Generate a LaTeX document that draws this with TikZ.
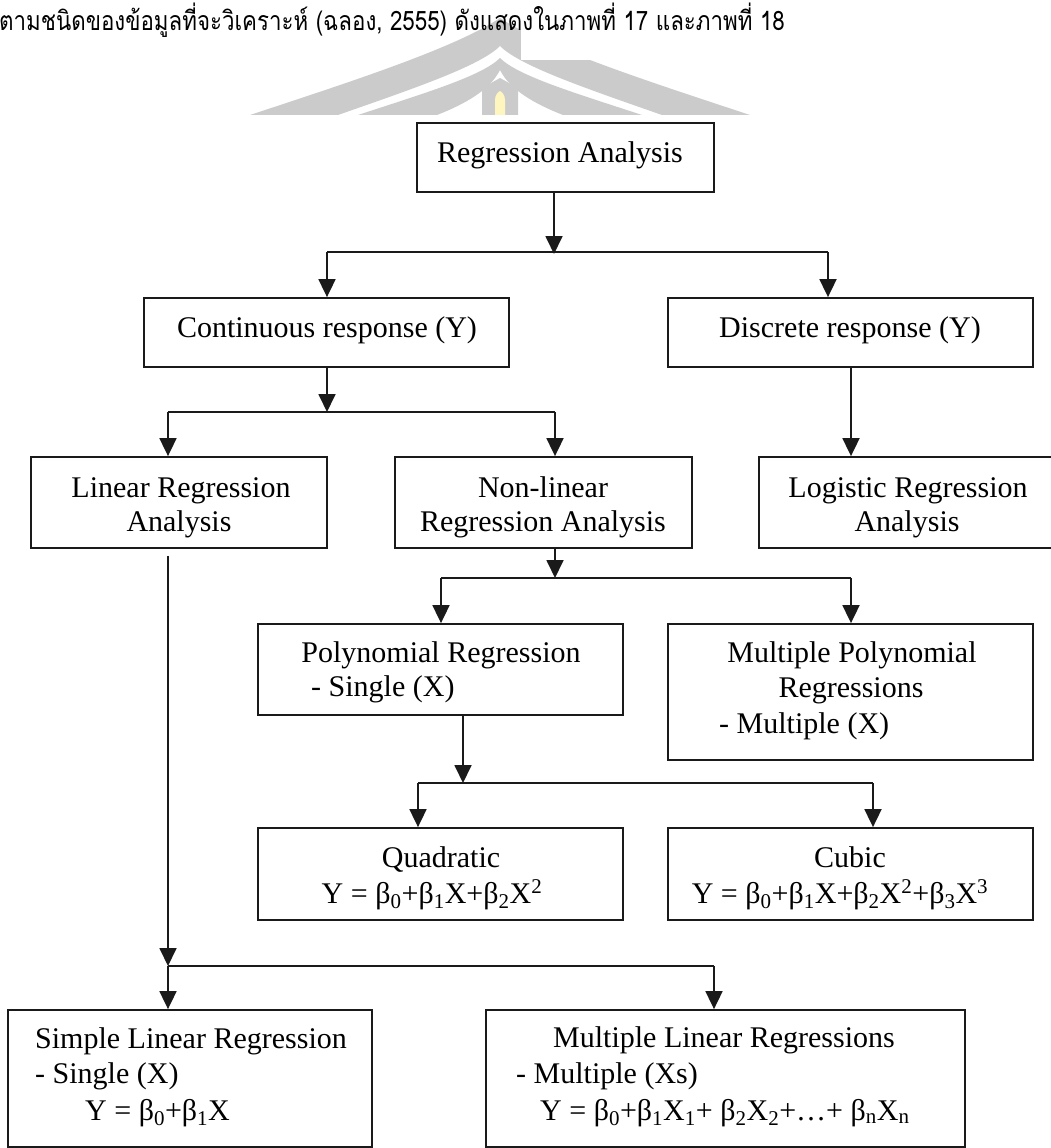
\documentclass[tikz,border=0pt]{standalone}
\usepackage{fontspec}
\setmainfont{Liberation Serif}
\newfontfamily\thaifont[Script=Thai]{Loma}
\usetikzlibrary{arrows.meta}
\definecolor{linec}{HTML}{1A1A1A}
\definecolor{wm}{HTML}{CBCBCB}
\definecolor{flame}{HTML}{FFF6BF}
\newcommand{\bt}[1]{β\textsubscript{#1}}
\begin{document}
\begin{tikzpicture}[x=1pt,y=-1pt,
  box/.style={draw=linec, line width=1.8pt, rectangle, inner sep=0pt},
  txt/.style={font=\fontsize{30}{35}\selectfont, inner sep=0pt, anchor=base},
  txtl/.style={font=\fontsize{30}{35}\selectfont, inner sep=0pt, anchor=base west},
  ln/.style={draw=linec, line width=1.8pt},
  arr/.style={draw=linec, line width=1.8pt, -{Triangle[width=17pt,length=18pt]}}]
\useasboundingbox (0,0) rectangle (1051,1148);
\fill[white] (0,0) rectangle (1051,1148);
% watermark
\fill[wm] (250,115) .. controls (350,82) and (455,48) .. (500,18)
  .. controls (545,48) and (650,82) .. (750,115) -- (662,115)
  .. controls (585,88) and (520,66) .. (500,46)
  .. controls (480,66) and (415,88) .. (338,115) -- cycle;
\fill[wm] (358,115) .. controls (425,93) and (482,76) .. (500,58)
  .. controls (518,76) and (575,93) .. (642,115) -- (563,115)
  .. controls (535,104) and (510,90) .. (500,70)
  .. controls (490,90) and (465,104) .. (437,115) -- cycle;
\fill[wm] (482,115) -- (482,88) -- (500,78) -- (518,88) -- (518,115) -- cycle;
\fill[flame] (495,115) -- (495,100) .. controls (495,95) and (498,92) .. (500,91)
  .. controls (502,92) and (505,95) .. (505,100) -- (505,115) -- cycle;
\fill[white] (521,-5) rectangle (1060,60);
\fill[white] (-5,115) rectangle (1060,1160);
% heading
\node[anchor=base west, inner sep=0pt, font=\thaifont\fontsize{22.3}{27}\selectfont] (thai) at (-1,31)
  {\scalebox{1}[1.2]{ตามชนิดของข้อมูลที่จะวิเคราะห์ (ฉลอง, 2555) ดังแสดงในภาพที่ 17 และภาพที่ 18}};
% boxes
\node[box, minimum width=297pt, minimum height=69pt] (reg) at (565.5,157.5) {};
\node[box, minimum width=365pt, minimum height=69pt] (cont) at (326.5,332.5) {};
\node[box, minimum width=365pt, minimum height=69pt] (disc) at (850.5,332.5) {};
\node[box, minimum width=296pt, minimum height=91pt] (lin) at (179,502.5) {};
\node[box, minimum width=297pt, minimum height=91pt] (nonlin) at (543.5,502.5) {};
\node[box, minimum width=299pt, minimum height=91pt] (logi) at (908.5,502.5) {};
\node[box, minimum width=365pt, minimum height=91pt] (poly) at (440.5,669.5) {};
\node[box, minimum width=365pt, minimum height=136pt] (mpoly) at (850.5,692) {};
\node[box, minimum width=365pt, minimum height=92pt] (quad) at (440.5,874) {};
\node[box, minimum width=365pt, minimum height=92pt] (cubic) at (850.5,874) {};
\node[box, minimum width=364pt, minimum height=137pt] (simple) at (190,1078.5) {};
\node[box, minimum width=479pt, minimum height=137pt] (mlin) at (725.5,1078.5) {};
% texts
\node[txt] (treg) at (560,162) {Regression Analysis};
\node[txt] (tcont) at (327,337) {Continuous response (Y)};
\node[txt] (tdisc) at (850,337) {Discrete response (Y)};
\node[txt] (tlin1) at (181,497) {Linear Regression};
\node[txt] (tlin2) at (179,531) {Analysis};
\node[txt] (tnl1) at (543,497) {Non-linear};
\node[txt] (tnl2) at (543,531) {Regression Analysis};
\node[txt] (tlg1) at (908,497) {Logistic Regression};
\node[txt] (tlg2) at (907,531) {Analysis};
\node[txt] (tpo1) at (441,662) {Polynomial Regression};
\node[txtl] (tpo2) at (311,696) {- Single (X)};
\node[txt] (tmp1) at (852,662) {Multiple Polynomial};
\node[txt] (tmp2) at (851,697) {Regressions};
\node[txtl] (tmp3) at (719,733) {- Multiple (X)};
\node[txt] (tq1) at (441,867) {Quadratic};
\node[txt] (tq2) at (432,903) {Y = \bt{0}+\bt{1}X+\bt{2}X\textsuperscript{2}};
\node[txt] (tc1) at (850,867) {Cubic};
\node[txt] (tc2) at (840,903) {Y = \bt{0}+\bt{1}X+\bt{2}X\textsuperscript{2}+\bt{3}X\textsuperscript{3}};
\node[txtl] (ts1) at (35,1048) {Simple Linear Regression};
\node[txtl] (ts2) at (35,1083) {- Single (X)};
\node[txtl] (ts3) at (85,1120) {Y = \bt{0}+\bt{1}X};
\node[txt] (tm1) at (724,1047) {Multiple Linear Regressions};
\node[txtl] (tm2) at (516,1083) {- Multiple (Xs)};
\node[txtl] (tm3) at (540,1120) {Y = \bt{0}+\bt{1}X\textsubscript{1}+ \bt{2}X\textsubscript{2}+…+ \bt{n}X\textsubscript{n}};
% branch points
\coordinate (b1) at (554,254);
\coordinate (b1L) at (327,252);
\coordinate (b1R) at (828,252);
\coordinate (b2) at (327,412);
\coordinate (b2L) at (168,412);
\coordinate (b2R) at (555,412);
\coordinate (dl) at (851,400);
\coordinate (b3) at (555,578);
\coordinate (b3L) at (441,578);
\coordinate (b3R) at (851,578);
\coordinate (b4) at (463,783);
\coordinate (b4L) at (418,783);
\coordinate (b4R) at (873,783);
\coordinate (b5) at (168,966);
\coordinate (b5R) at (714,966);
% connectors
\draw[arr] (reg.south -| b1) -- (b1);
\draw[ln] (b1L) -- (b1R);
\draw[arr] (b1L) -- (b1L |- cont.north);
\draw[arr] (b1R) -- (b1R |- disc.north);
\draw[arr] (cont.south -| b2) -- (b2);
\draw[ln] (b2L) -- (b2R);
\draw[arr] (b2L) -- (b2L |- lin.north);
\draw[arr] (b2R) -- (b2R |- nonlin.north);
\draw[arr] (disc.south -| dl) -- (dl |- logi.north);
\draw[arr] (nonlin.south -| b3) -- (b3);
\draw[ln] (b3L) -- (b3R);
\draw[arr] (b3L) -- (b3L |- poly.north);
\draw[arr] (b3R) -- (b3R |- mpoly.north);
\draw[arr] (poly.south -| b4) -- (b4);
\draw[ln] (b4L) -- (b4R);
\draw[arr] (b4L) -- (b4L |- quad.north);
\draw[arr] (b4R) -- (b4R |- cubic.north);
\draw[arr, shorten <=7pt] (lin.south -| b5) -- (b5);
\draw[ln] (b5) -- (b5R);
\draw[arr] (b5) -- (b5 |- simple.north);
\draw[arr] (b5R) -- (b5R |- mlin.north);
\end{tikzpicture}
\end{document}
